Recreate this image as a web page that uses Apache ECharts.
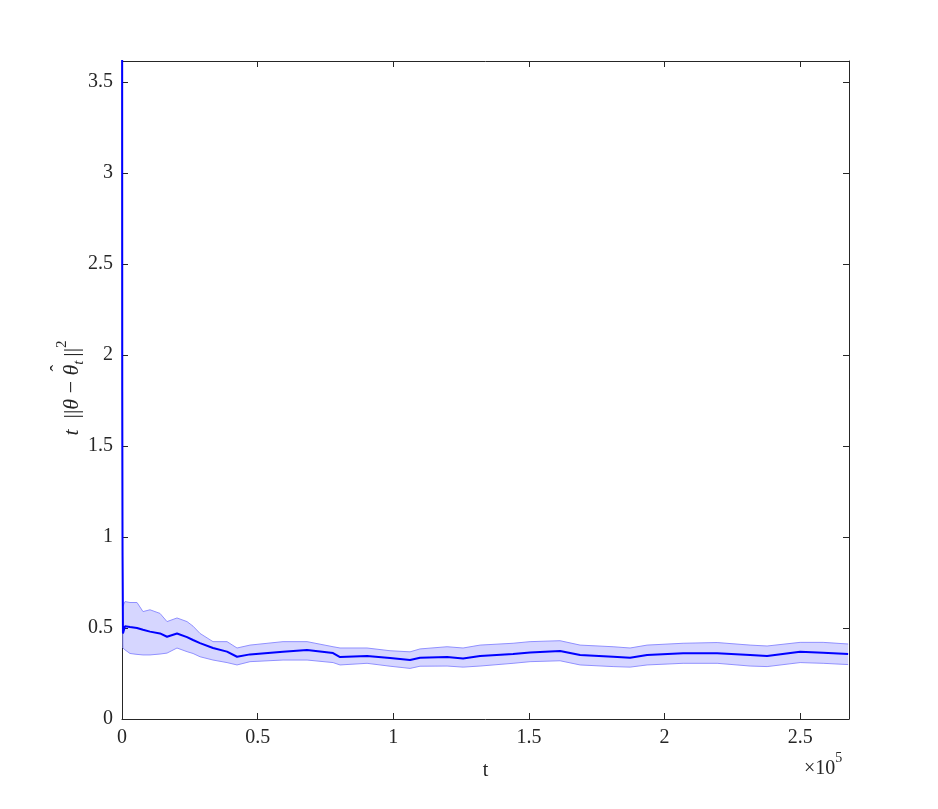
<!DOCTYPE html>
<html>
<head>
<meta charset="utf-8">
<script src="https://cdn.jsdelivr.net/npm/echarts@6/dist/echarts.min.js"></script>
<style>
  html, body { margin: 0; padding: 0; background: #fff; }
  #main { width: 938px; height: 809px; }
</style>
</head>
<body>
<div id="main"></div>
<script>
// t values (iterations)
var tVals = [0, 100, 200, 350, 1100, 2950, 5530, 7740, 10320, 14010, 16590, 20280, 23970, 26180,
  28760, 33550, 38710, 42400, 47190, 59360, 68210, 77800, 80380, 90330, 98810, 106190, 109870,
  119830, 125730, 132000, 144160, 150430, 161490, 168870, 181030, 187300, 193570, 206840,
  219380, 231540, 237810, 249980, 258460, 267680];
// mean of t*||theta - theta_hat||^2
var meanVals = [6.0, 1.8, 0.9, 0.47, 0.51, 0.505, 0.5, 0.49, 0.48, 0.47, 0.452, 0.47, 0.45, 0.434,
  0.417, 0.39, 0.37, 0.342, 0.355, 0.37, 0.379, 0.362, 0.34, 0.346, 0.335, 0.324, 0.337,
  0.34, 0.333, 0.346, 0.357, 0.366, 0.374, 0.352, 0.342, 0.337, 0.352, 0.361,
  0.361, 0.352, 0.346, 0.37, 0.364, 0.357];
// upper band edge
var upperVals = [6.5, 2.0, 1.0, 0.62, 0.645, 0.64, 0.64, 0.59, 0.6, 0.58, 0.535, 0.555, 0.535, 0.51,
  0.47, 0.425, 0.425, 0.39, 0.406, 0.425, 0.425, 0.397, 0.39, 0.39, 0.375, 0.369, 0.385,
  0.397, 0.39, 0.406, 0.416, 0.425, 0.43, 0.406, 0.397, 0.39, 0.406, 0.416,
  0.42, 0.406, 0.401, 0.421, 0.421, 0.412];
// lower band edge
var lowerVals = [5.5, 1.6, 0.75, 0.39, 0.38, 0.36, 0.355, 0.352, 0.352, 0.357, 0.362, 0.39, 0.37, 0.36,
  0.342, 0.324, 0.31, 0.297, 0.315, 0.324, 0.324, 0.31, 0.297, 0.306, 0.29, 0.278, 0.29,
  0.291, 0.285, 0.291, 0.306, 0.315, 0.32, 0.297, 0.288, 0.285, 0.297, 0.306,
  0.306, 0.291, 0.288, 0.31, 0.306, 0.299];

var xTicks = [0, 50000, 100000, 150000, 200000, 250000];
var yTicks = [0, 0.5, 1, 1.5, 2, 2.5, 3, 3.5];

var serif = '"Liberation Serif", "Times New Roman", serif';
var axisColor = '#262626';

var lowerPts = [], upperPts = [], meanPts = [];
for (var i = 0; i < tVals.length; i++) {
  lowerPts.push([tVals[i], lowerVals[i]]);
  upperPts.push([tVals[i], upperVals[i]]);
  meanPts.push([tVals[i], meanVals[i]]);
}

function baseAxis(isX, pos, labels) {
  return {
    type: 'value',
    position: pos,
    min: 0,
    max: isX ? 268000 : 3.615,
    interval: isX ? 50000 : 0.5,
    splitLine: { show: false },
    axisLine: { show: true, onZero: false, lineStyle: { color: axisColor, width: 1 } },
    axisTick: { show: true, inside: true, length: 6, lineStyle: { color: axisColor } },
    axisLabel: {
      show: labels,
      showMaxLabel: false,
      color: axisColor,
      fontFamily: serif,
      fontSize: 20,
      margin: 9,
      formatter: function (v) {
        var ticks = isX ? xTicks : yTicks;
        if (ticks.indexOf(v) < 0) return '';
        return isX ? String(v / 1e5) : String(v);
      }
    }
  };
}

var xMain = baseAxis(true, 'bottom', true);
xMain.name = 't';
xMain.nameLocation = 'middle';
xMain.nameGap = 42;
xMain.nameTextStyle = { fontFamily: serif, fontSize: 20, color: axisColor };
var xTop = baseAxis(true, 'top', false);
var yMain = baseAxis(false, 'left', true);
var yRight = baseAxis(false, 'right', false);

// y axis title  t ||θ − θ̂_t||²  laid out piece by piece
var ctx = document.createElement('canvas').getContext('2d');
var pieces = [
  { s: 't', it: true, size: 22, dy: 0 },
  { s: '  ||', it: false, size: 22, dy: 0 },
  { s: 'θ', it: true, size: 22, dy: 0 },
  { s: ' − ', it: false, size: 22, dy: 0 },
  { s: 'θ', it: true, size: 22, dy: 0, hat: true },
  { s: 't ', it: true, size: 15, dy: 7 },
  { s: '||', it: false, size: 22, dy: 0 },
  { s: '2', it: false, size: 15, dy: -10 }
];
function fontOf(p) { return (p.it ? 'italic ' : '') + p.size + 'px ' + serif; }
var totalW = 0;
pieces.forEach(function (p) { ctx.font = fontOf(p); p.w = ctx.measureText(p.s).width; totalW += p.w; });
var labelKids = [];
var cx = -totalW / 2;
pieces.forEach(function (p) {
  labelKids.push({
    type: 'text', x: cx, y: p.dy,
    style: { text: p.s, font: fontOf(p), fill: axisColor, align: 'left', verticalAlign: 'middle' }
  });
  if (p.hat) {
    labelKids.push({
      type: 'text', x: cx + p.w / 2 + 2, y: -12,
      style: { text: 'ˆ', font: '20px ' + serif, fill: axisColor, align: 'center', verticalAlign: 'middle' }
    });
  }
  cx += p.w;
});

// shaded band between lower and upper, drawn once through the axes
function renderBand(params, api) {
  if (params.dataIndex !== 0) return null;
  var pts = [];
  for (var k = 0; k < upperPts.length; k++) pts.push(api.coord(upperPts[k]));
  for (var m = lowerPts.length - 1; m >= 0; m--) pts.push(api.coord(lowerPts[m]));
  return {
    type: 'polygon',
    shape: { points: pts },
    style: { fill: 'rgba(0,0,255,0.16)', stroke: 'none' },
    clipPath: {
      type: 'rect',
      shape: { x: params.coordSys.x, y: params.coordSys.y, width: params.coordSys.width, height: params.coordSys.height }
    }
  };
}

var chart = echarts.init(document.getElementById('main'));
chart.setOption({
  animation: false,
  backgroundColor: '#fff',
  grid: { left: 122, right: 89, top: 61, bottom: 90, containLabel: false },
  xAxis: [xMain, xTop],
  yAxis: [yMain, yRight],
  graphic: [
    {
      type: 'group',
      x: 72, y: 388,
      rotation: Math.PI / 2,
      children: labelKids
    },
    {
      type: 'text',
      x: 804, y: 751,
      style: {
        text: '{n|×10}{sup|5}',
        fill: axisColor,
        rich: {
          n: { fontFamily: serif, fontSize: 20, fill: axisColor, lineHeight: 28, verticalAlign: 'bottom' },
          sup: { fontFamily: serif, fontSize: 14, fill: axisColor, lineHeight: 28, verticalAlign: 'top' }
        }
      }
    }
  ],
  series: [
    {
      type: 'custom',
      renderItem: renderBand,
      data: [0],
      silent: true,
      z: 1
    },
    {
      type: 'line',
      data: lowerPts,
      symbol: 'none',
      clip: true,
      lineStyle: { color: '#9090ff', width: 1 },
      z: 2
    },
    {
      type: 'line',
      data: upperPts,
      symbol: 'none',
      clip: true,
      lineStyle: { color: '#9090ff', width: 1 },
      z: 2
    },
    {
      type: 'line',
      data: meanPts,
      symbol: 'none',
      clip: true,
      lineStyle: { color: '#0000ff', width: 2 },
      z: 3
    }
  ]
});
</script>
</body>
</html>
